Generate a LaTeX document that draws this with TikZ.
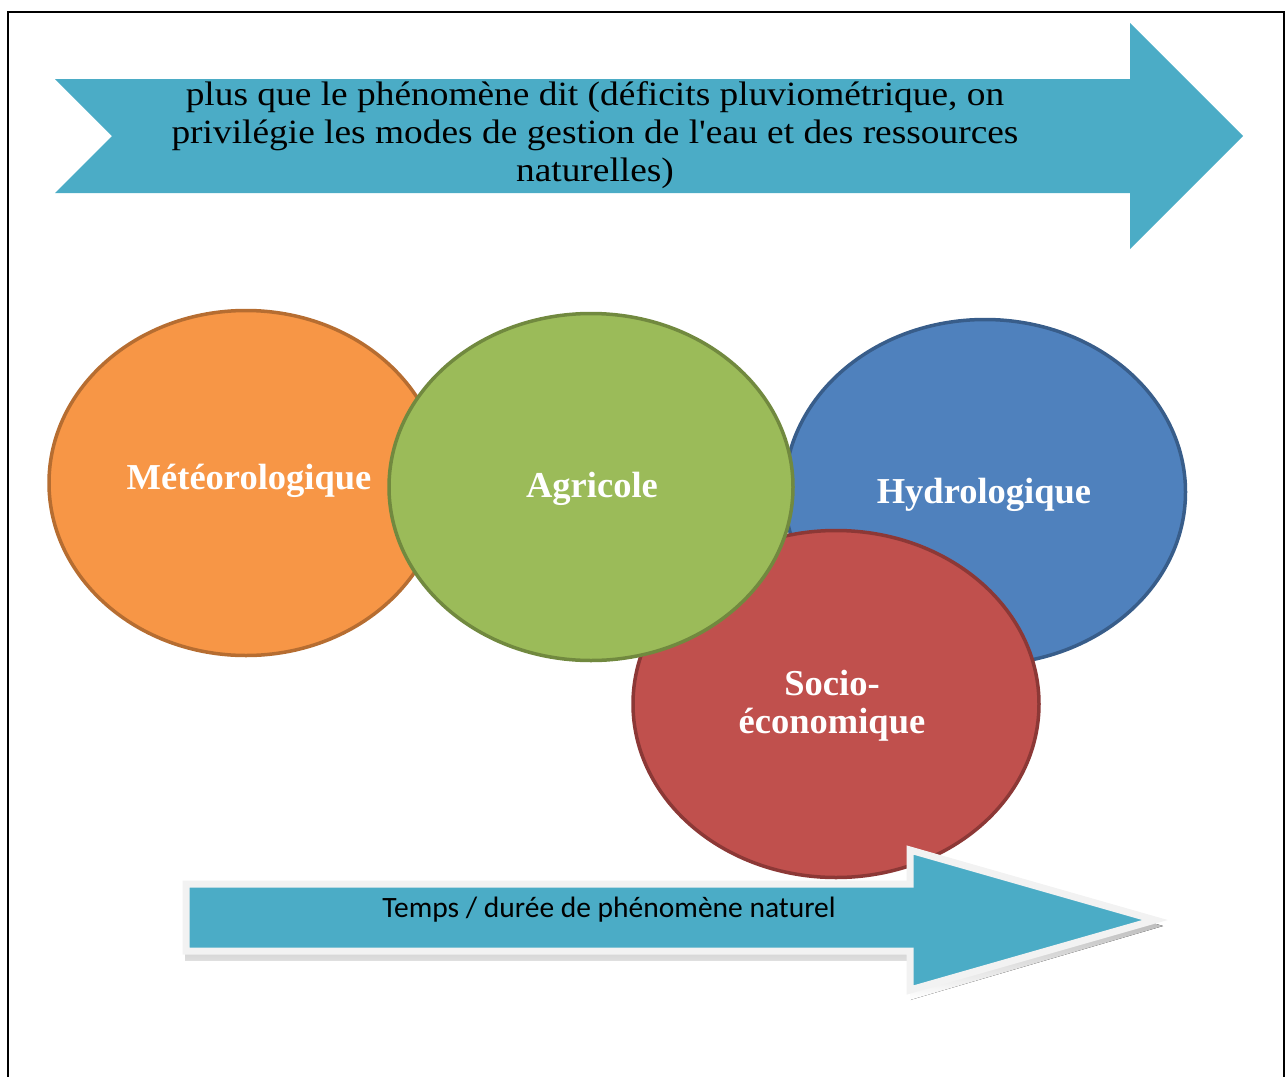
\documentclass[tikz,border=0pt]{standalone}
\usepackage{fontspec}
\setmainfont{Liberation Serif}
\newfontfamily\calib{Carlito}
\usetikzlibrary{shapes.geometric}
\definecolor{arrowblue}{HTML}{4BACC6}
\definecolor{orfill}{HTML}{F79646}\definecolor{orline}{HTML}{B66D31}
\definecolor{grfill}{HTML}{9BBB59}\definecolor{grline}{HTML}{71893F}
\definecolor{blfill}{HTML}{4F81BD}\definecolor{blline}{HTML}{385D8A}
\definecolor{rdfill}{HTML}{C0504D}\definecolor{rdline}{HTML}{8C3836}
\definecolor{rim}{HTML}{F2F2F2}\definecolor{shade}{HTML}{9FB3BE}
\tikzset{
  blob/.style={ellipse, line width=3.5pt, inner sep=0pt, text=white,
    font=\bfseries\fontsize{36.5}{38}\selectfont, align=center},
}
\begin{document}
\begin{tikzpicture}[x=1pt,y=-1pt]
\useasboundingbox (0,0) rectangle (1286,1077);
% frame
\draw[line width=2pt] (8,1077) -- (8,12) -- (1284,12) -- (1284,1077);
% top arrow
\fill[arrowblue] (55,79) -- (1130,79) -- (1130,23) -- (1243,136) -- (1130,249) -- (1130,193) -- (55,193) -- (112,136) -- cycle;
\node[font=\fontsize{34}{38}\selectfont, align=center, inner sep=0pt, xscale=1.1] (toptext) at (595,135)
  {plus que le phénomène dit (déficits pluviométrique, on\\privilégie les modes de gestion de l\textquotesingle eau et des ressources\\naturelles)};
% ellipses
\node[blob, fill=orfill, draw=orline, minimum width=394, minimum height=345] (meteo) at (246,483) {};
\node[blob, fill=blfill, draw=blline, minimum width=401, minimum height=345] (hydro) at (985,492) {};
\node[blob, fill=rdfill, draw=rdline, minimum width=406, minimum height=347] (socio) at (836,704) {};
\node[blob, fill=grfill, draw=grline, minimum width=404, minimum height=347] (agri) at (591,487) {};
\node[blob] (tmeteo) at (249,481) {Météorologique};
\node[blob] (tagri) at (592,489) {Agricole};
\node[blob] (thydro) at (984,495) {Hydrologique};
\node[blob] (tsocio) at (832,706) {Socio-\\économique};
% bottom arrow
\fill[shade] (185,888) -- (910,888) -- (910,851) -- (1163,926) -- (910,1000) -- (910,960) -- (185,960) -- cycle;
\draw[rim, line width=7pt, fill=arrowblue, line join=miter] (186,884) -- (910,884) -- (910,850) -- (1155,920) -- (910,990) -- (910,951) -- (186,951) -- cycle;
\node[font=\calib\fontsize{29.5}{32}\selectfont, inner sep=0pt] (bottext) at (609,910) {Temps / durée de phénomène naturel};
\end{tikzpicture}
\end{document}
